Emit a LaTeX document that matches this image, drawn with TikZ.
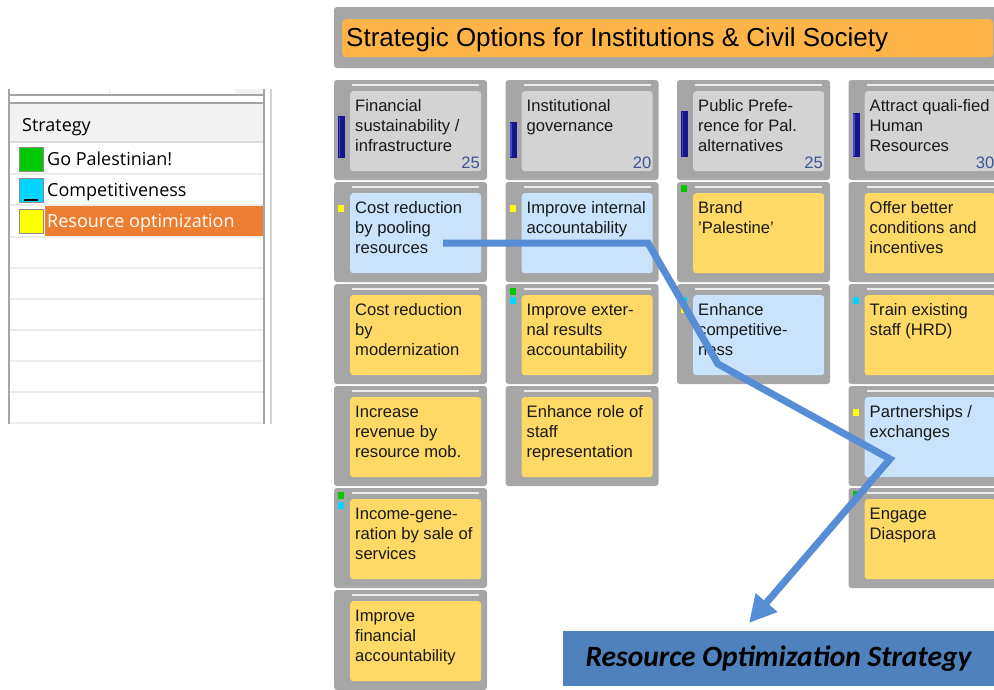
\documentclass[tikz,border=0pt]{standalone}
\usepackage{fontspec}
\setmainfont{Liberation Sans}
\newfontfamily\uifont{Open Sans}
\newfontfamily\calfont{Carlito}
\usetikzlibrary{arrows.meta}

\definecolor{cardgray}{RGB}{166,166,166}
\definecolor{hdrgray}{RGB}{211,211,211}
\definecolor{cardyellow}{RGB}{255,217,102}
\definecolor{cardblue}{RGB}{201,227,252}
\definecolor{titleorange}{RGB}{255,180,72}
\definecolor{barnavy}{RGB}{22,22,140}
\definecolor{barhi}{RGB}{70,70,210}
\definecolor{numblue}{RGB}{60,85,150}
\definecolor{mgreen}{RGB}{0,200,0}
\definecolor{mcyan}{RGB}{0,212,255}
\definecolor{myellow}{RGB}{255,255,0}
\definecolor{arrowblue}{RGB}{86,141,213}
\definecolor{rosblue}{RGB}{79,129,189}
\definecolor{selorange}{RGB}{237,125,49}
\definecolor{framegray}{RGB}{165,165,165}
\definecolor{rowline}{RGB}{236,236,236}
\definecolor{hdrbg}{RGB}{242,242,242}

\newcommand\crdpos[2]{%
  \pgfmathsetmacro\crdx{334+171.5*(#1-1)}%
  \pgfmathsetmacro\crdy{80+102*(#2-1)}%
}
% name, col, row, fill, text
\newcommand\mycard[5]{%
  \crdpos{#2}{#3}%
  \fill[cardgray,rounded corners=3pt] (\crdx,\crdy) rectangle ++(153,100);
  \draw[topline] (\crdx+18,\crdy+5) -- (\crdx+145,\crdy+5);
  \node[cardinner,fill=#4] (#1) at (\crdx+16,\crdy+11) {};
  \node[cardtext] (#1-t) at (\crdx+21,\crdy+18) {\rule{0pt}{13pt}#5};
}
% col, row, colour, offset
\newcommand\mymark[4]{%
  \crdpos{#1}{#2}%
  \fill[#3] (\crdx+4,\crdy+#4) rectangle ++(6,7);
}
% name, col, top, bottom, number
\newcommand\myweight[5]{%
  \crdpos{#2}{1}%
  \fill[barnavy] (\crdx+4,#3) rectangle (\crdx+11,#4);
  \fill[barhi] (\crdx+4.5,#3+1) rectangle (\crdx+6,#4-1);
  \node[numstyle] (#1) at (\crdx+146,168) {#5};
}

\begin{document}
\begin{tikzpicture}[x=1pt,y=-1pt,
  topline/.style={draw=white!92!black,line width=1.3pt},
  cardinner/.style={anchor=north west,minimum width=131,minimum height=80,rounded corners=3pt,inner sep=0pt,draw=none},
  cardtext/.style={anchor=north west,inner sep=0pt,align=left,font=\fontsize{16.6}{20}\selectfont,text=black!90},
  numstyle/.style={anchor=base east,inner sep=0pt,font=\fontsize{16.6}{20}\selectfont,text=numblue},
  legtext/.style={anchor=base west,inner sep=0pt,font=\uifont\fontsize{18}{22}\selectfont},
  legsq/.style={draw=black!45,line width=0.8pt,minimum size=24,inner sep=0pt},
  conn/.style={draw=arrowblue,line width=7pt,-{Triangle[length=27pt,width=27pt]}},
  rosbox/.style={fill=rosblue,minimum width=431,minimum height=55,inner sep=0pt,font=\calfont\bfseries\itshape\fontsize{29.5}{32}\selectfont,text=black}
]
\useasboundingbox (0,0) rectangle (994,689);
\clip (0,0) rectangle (994,689);

% ---------------- legend panel ----------------
\fill[rowline!70] (235,89) rectangle (263,95);
\draw[rowline,line width=1pt] (109,89) -- (109,95);
\draw[framegray,line width=1.6pt] (9,89) -- (9,424);
\draw[framegray,line width=1.6pt] (264,89) -- (264,424);
\draw[framegray!50,line width=1.2pt] (271,89) -- (271,424);
\draw[framegray,line width=1.6pt] (9,95) -- (264,95);
\draw[framegray,line width=1.6pt] (9,103) -- (264,103);
\fill[hdrbg] (10,104) rectangle (263,141);
\draw[black!14,line width=1.5pt] (10,142) -- (263,142);
\foreach \yy in {174,205,237,268,299,330,361,392,423}
  \draw[rowline,line width=1.2pt] (10,\yy) -- (263,\yy);
\node[legtext] (leghead) at (22,131) {Strategy};
\fill[selorange] (45,206) rectangle (263,236);
\node[legsq,fill=mgreen] (sqg) at (31,159) {};
\node[legsq,fill=mcyan] (sqc) at (31,190) {};
\draw[black,line width=1.4pt] (24,200) -- (38,200);
\node[legsq,fill=myellow] (sqy) at (31,221) {};
\node[legtext] (lgg) at (47,165) {Go Palestinian!};
\node[legtext] (lgc) at (47,196) {Competitiveness};
\node[legtext,text=white] (lgy) at (47,227) {Resource optimization};

% ---------------- title ----------------
\fill[cardgray,rounded corners=3pt] (334,7) rectangle (1000,68);
\node[anchor=north west,fill=titleorange,rounded corners=4pt,minimum width=651,minimum height=38,inner sep=0pt] (titlebar) at (342,19) {};
\node[anchor=base west,inner sep=0pt,font=\fontsize{26}{30}\selectfont] (titletext) at (346,46) {Strategic Options for Institutions \& Civil Society};

% ---------------- cards ----------------
\mycard{h1}{1}{1}{hdrgray}{Financial\\sustainability /\\infrastructure}
\mycard{h2}{2}{1}{hdrgray}{Institutional\\governance}
\mycard{h3}{3}{1}{hdrgray}{Public Prefe-\\rence for Pal.\\alternatives}
\mycard{h4}{4}{1}{hdrgray}{Attract quali-fied\\Human\\Resources}
\myweight{w1}{1}{116}{158}{25}
\myweight{w2}{2}{122}{158}{20}
\myweight{w3}{3}{111}{157}{25}
\myweight{w4}{4}{113}{157}{30}

\mycard{c12}{1}{2}{cardblue}{Cost reduction\\by pooling\\resources}
\mycard{c13}{1}{3}{cardyellow}{Cost reduction\\by\\modernization}
\mycard{c14}{1}{4}{cardyellow}{Increase\\revenue by\\resource mob.}
\mycard{c15}{1}{5}{cardyellow}{Income-gene-\\ration by sale of\\services}
\mycard{c16}{1}{6}{cardyellow}{Improve\\financial\\accountability}

\mycard{c22}{2}{2}{cardblue}{Improve internal\\accountability}
\mycard{c23}{2}{3}{cardyellow}{Improve exter-\\nal results\\accountability}
\mycard{c24}{2}{4}{cardyellow}{Enhance role of\\staff\\representation}

\mycard{c32}{3}{2}{cardyellow}{Brand\\'Palestine'}
\mycard{c33}{3}{3}{cardblue}{Enhance\\competitive-\\ness}

\mycard{c42}{4}{2}{cardyellow}{Offer better\\conditions and\\incentives}
\mycard{c43}{4}{3}{cardyellow}{Train existing\\staff (HRD)}
\mycard{c44}{4}{4}{cardblue}{Partnerships /\\exchanges}
\mycard{c45}{4}{5}{cardyellow}{Engage\\Diaspora}

% strategy markers
\mymark{1}{2}{myellow}{23}
\mymark{2}{2}{myellow}{23}
\mymark{3}{2}{mgreen}{3}
\mymark{2}{3}{mgreen}{4}
\mymark{2}{3}{mcyan}{13}
\mymark{3}{3}{mcyan}{13}
\mymark{3}{3}{myellow}{22}
\mymark{4}{3}{mcyan}{13}
\mymark{4}{4}{myellow}{23}
\mymark{1}{5}{mgreen}{4}
\mymark{1}{5}{mcyan}{14}
\mymark{4}{5}{mgreen}{3}

% ---------------- result box and arrow ----------------
\node[rosbox] (ros) at (778.5,658.5) {Resource Optimization Strategy};
\coordinate (a1) at (443,243);
\coordinate (a2) at (648,243);
\coordinate (a3) at (718,364);
\coordinate (a4) at (890,459);
\coordinate (tip) at (749,623);
\draw[conn] (a1) -- (a2) -- (a3) -- (a4) -- (tip);
\end{tikzpicture}
\end{document}
